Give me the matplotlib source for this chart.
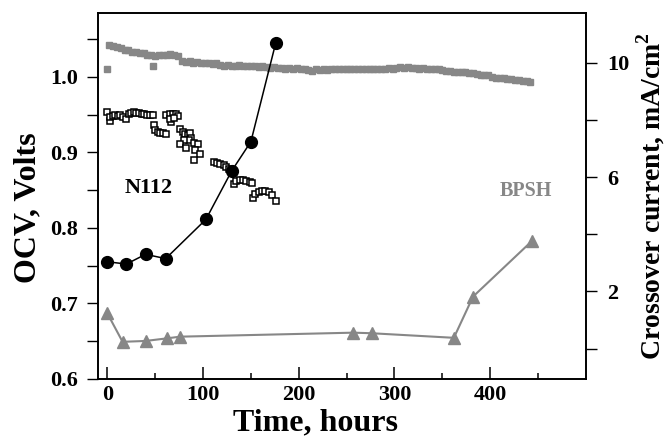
import matplotlib
matplotlib.use("Agg")
import matplotlib.pyplot as plt
from matplotlib.ticker import MultipleLocator, FixedLocator, FormatStrFormatter

plt.rcParams['font.family'] = ['Liberation Serif', 'DejaVu Serif']
plt.rcParams['font.weight'] = 'bold'
plt.rcParams['mathtext.fontset'] = 'custom'
plt.rcParams['mathtext.rm'] = 'Liberation Serif:bold'
plt.rcParams['mathtext.bf'] = 'Liberation Serif:bold'

# ---- BPSH OCV (gray filled squares, left axis) ----
bpsh_ocv_t = [0, 48,
    2, 6, 10, 14, 18, 22, 26, 30, 34, 38, 42, 46, 50, 54, 58, 62, 66, 70, 74, 78,
    82, 86, 90, 94, 98, 102, 106, 110, 114, 118, 122, 126, 130, 134, 138, 142, 146,
    150, 154, 158, 162, 166, 170, 174, 178, 182, 186, 190, 194, 198, 202, 206, 210,
    214, 218, 222, 226, 230, 234, 238, 242, 246, 250, 254, 258, 262, 266, 270, 274,
    278, 282, 286, 290, 294, 298, 302, 306, 310, 314, 318, 322, 326, 330, 334, 338,
    342, 346, 350, 354, 358, 362, 366, 370, 374, 378, 382, 386, 390, 394, 398, 402,
    406, 410, 414, 418, 422, 426, 430, 434, 438, 442]
bpsh_ocv_v = [1.0105, 1.014,
    1.042, 1.041, 1.040, 1.038, 1.036, 1.035, 1.033, 1.033, 1.031, 1.031, 1.029,
    1.029, 1.028, 1.029, 1.029, 1.029, 1.030, 1.029, 1.028, 1.021, 1.020, 1.021,
    1.019, 1.020, 1.018, 1.019, 1.018, 1.017, 1.018, 1.016, 1.015, 1.016, 1.015,
    1.015, 1.016, 1.015, 1.014, 1.015, 1.014, 1.013, 1.014, 1.013, 1.012, 1.013,
    1.012, 1.012, 1.011, 1.012, 1.011, 1.012, 1.011, 1.010, 1.009, 1.008, 1.010,
    1.009, 1.010, 1.009, 1.010, 1.010, 1.011, 1.010, 1.011, 1.010, 1.011, 1.011,
    1.010, 1.011, 1.011, 1.010, 1.011, 1.010, 1.011, 1.012, 1.011, 1.012, 1.013,
    1.012, 1.013, 1.012, 1.012, 1.011, 1.012, 1.011, 1.011, 1.010, 1.010, 1.009,
    1.008, 1.008, 1.007, 1.007, 1.006, 1.006, 1.005, 1.005, 1.004, 1.003, 1.003,
    1.002, 1.000, 0.999, 0.998, 0.998, 0.997, 0.997, 0.996, 0.996, 0.995, 0.994,
    0.993]

# ---- N112 OCV (open squares, left axis) ----
n112_ocv_t = [-0.3, 2.4, 3.1, 5.9, 8.4, 10.8, 13.6, 16.4, 19.9, 22.3, 24.7, 27.5,
    30.3, 33.1, 35.9, 38.7, 41.5, 44.3, 47.7,
    48.4, 50.2, 52.6, 55.4, 58.2, 61.0,
    61.7, 65.2, 68.7, 72.1, 73.5, 66.6, 65.2, 69.4,
    76.3, 79.1, 81.5, 84.0, 86.0, 87.5, 85.0, 79.8, 75.6, 90.2, 94.4, 82.6, 92.0,
    96.5, 91.0,
    111.2, 114.7, 118.1, 121.6, 124.4, 126.8, 129.3,
    132.0, 134.9, 138.3, 141.9, 145.3, 149.5, 151.3,
    152.3, 154.7, 158.2, 161.7, 165.2, 168.6, 172.2, 176.7]
n112_ocv_v = [0.9536, 0.9417, 0.9470, 0.9479, 0.9492, 0.9479, 0.9492, 0.9470,
    0.9448, 0.9505, 0.9523, 0.9532, 0.9523, 0.9523, 0.9515, 0.9515, 0.9497,
    0.9492, 0.9492,
    0.9360, 0.9294, 0.9271, 0.9263, 0.9258, 0.9250,
    0.9492, 0.9505, 0.9515, 0.9505, 0.9479, 0.9404, 0.9448, 0.9462,
    0.9316, 0.9271, 0.9250, 0.9228, 0.9258, 0.9197, 0.9161, 0.9170, 0.9118,
    0.9126, 0.9118, 0.9065, 0.9038, 0.8976, 0.8906,
    0.8874, 0.8861, 0.8853, 0.8831, 0.8808, 0.8787, 0.8755,
    0.8579, 0.8623, 0.8641, 0.8641, 0.8623, 0.8610, 0.8589,
    0.8390, 0.8447, 0.8478, 0.8490, 0.8490, 0.8478, 0.8434, 0.8358]

# ---- Crossover current (right axis) ----
n112_cross_t = [0, 20, 40, 61, 103, 130, 150, 176]
n112_cross_v = [3.04, 2.96, 3.30, 3.15, 4.52, 6.22, 7.24, 10.70]

bpsh_cross_t = [0, 16, 40, 62, 76, 257, 276, 362, 382, 444]
bpsh_cross_v = [1.24, 0.24, 0.27, 0.36, 0.42, 0.56, 0.54, 0.38, 1.82, 3.78]

x_ticks = [0, 100, 200, 300, 400]

gray = '#878787'

fig = plt.figure(figsize=(6.71, 4.43), dpi=100)
ax = fig.add_axes([0.1456, 0.1445, 0.7277, 0.8268])
ax2 = ax.twinx()

ax.plot(bpsh_ocv_t, bpsh_ocv_v, ls='none', marker='s', ms=4.4, color=gray,
        mec=gray, zorder=2)
ax.plot(n112_ocv_t, n112_ocv_v, ls='none', marker='s', ms=3.8, mfc='white',
        mec='black', mew=1.1, zorder=3)

ax2.plot(bpsh_cross_t, bpsh_cross_v, '-', color=gray, lw=1.5, marker='^', ms=8.5,
         mfc=gray, mec=gray, zorder=3)
ax2.plot(n112_cross_t, n112_cross_v, '-', color='black', lw=1.1, marker='o', ms=8.5,
         mfc='black', mec='black', zorder=4)

ax.set_xlim(-10, 500)
ax.set_ylim(0.6, 1.085)
ax2.set_ylim(-1.06, 11.75)

ax.xaxis.set_major_locator(FixedLocator(x_ticks))
ax.xaxis.set_minor_locator(FixedLocator([50, 150, 250, 350, 450]))
ax.yaxis.set_major_locator(MultipleLocator(0.1))
ax.yaxis.set_minor_locator(MultipleLocator(0.05))
ax.yaxis.set_major_formatter(FormatStrFormatter('%.1f'))
ax2.yaxis.set_major_locator(FixedLocator([2, 6, 10]))
ax2.yaxis.set_minor_locator(FixedLocator([0, 4, 8]))

ax.tick_params(axis='x', which='major', direction='in', length=9, width=1.1,
               labelsize=16, pad=4, top=False)
ax.tick_params(axis='x', which='minor', direction='in', length=4, width=1.1, top=False)
ax.tick_params(axis='y', which='both', direction='out', length=8, width=1.0,
               labelsize=16, pad=6)
ax2.tick_params(axis='y', which='both', direction='out', length=8, width=1.0,
                labelsize=16, pad=7)

for a in (ax, ax2):
    for s in a.spines.values():
        s.set_linewidth(1.2)

ax.set_xlabel('Time, hours', fontsize=23, fontweight='bold')
ax.xaxis.set_label_coords(0.447, -0.08)
ax.set_ylabel('OCV, Volts', fontsize=23, fontweight='bold')
ax.yaxis.set_label_coords(-0.114, 0.468)
ax2.set_ylabel(r'Crossover current, mA/cm$^\mathbf{2}$', fontsize=20,
               fontweight='bold', labelpad=4)

ax.text(43, 0.853, 'N112', fontsize=16, fontweight='bold', ha='center',
        va='center', color='black')
ax.text(437, 0.8487, 'BPSH', fontsize=14.5, fontweight='bold', ha='center',
        va='center', color=gray)

fig.savefig('out.png', dpi=100)
